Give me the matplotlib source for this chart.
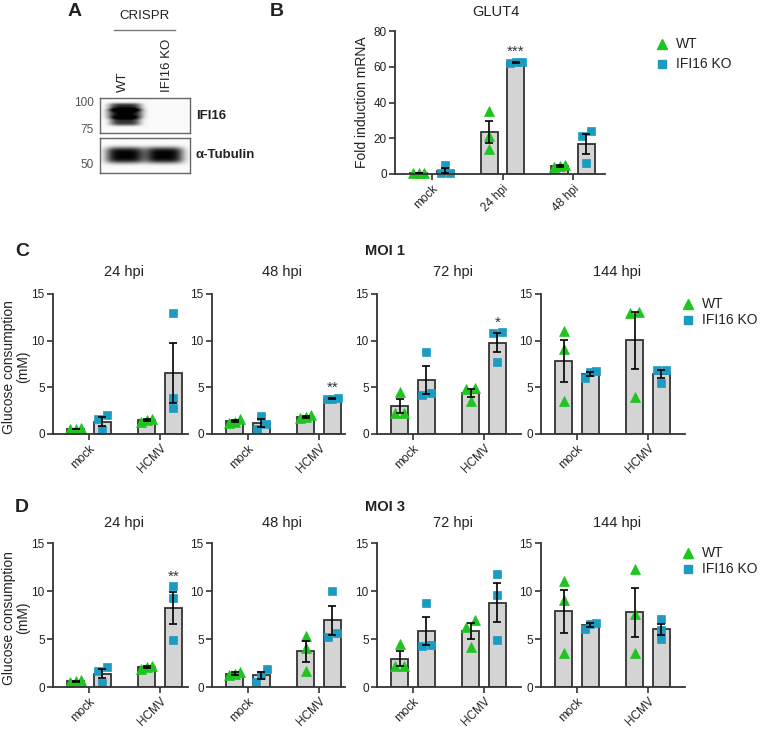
import numpy as np
import matplotlib
matplotlib.use('Agg')
import matplotlib.pyplot as plt

plt.rcParams['font.family'] = ['Liberation Sans', 'DejaVu Sans']

# ---- data ----
b_groups = ['mock', '24 hpi', '48 hpi']
b_wt = [[0.5, 0.6, 0.5], [35.0, 21.0, 14.0], [5.2, 4.3, 4.0]]
b_ko = [[4.8, 0.5, 0.4], [62.8, 62.2, 62.5], [24.0, 21.0, 6.0]]
b_stars = [None, '***', None]

c_groups = ['mock', 'HCMV']
times = ['24 hpi', '48 hpi', '72 hpi', '144 hpi']

# per time point: [mock points, HCMV points]
moi1_wt = [
    [[0.5, 0.6, 0.5], [1.6, 1.5, 1.3]],
    [[1.6, 1.2, 1.3], [2.0, 1.7, 1.8]],
    [[4.5, 2.2, 2.2], [4.9, 4.8, 3.5]],
    [[11.0, 9.1, 3.5], [13.1, 13.0, 4.0]],
]
moi1_ko = [
    [[2.0, 1.6, 0.4], [13.0, 3.9, 2.8]],
    [[1.9, 0.5, 1.1], [3.9, 3.75, 3.7]],
    [[8.8, 4.2, 4.4], [10.9, 10.8, 7.7]],
    [[6.7, 6.6, 6.0], [6.9, 6.9, 5.5]],
]
moi1_stars = [None, '**', '*', None]

moi3_wt = [
    [[0.6, 0.7, 0.5], [2.2, 2.1, 1.9]],
    [[1.6, 1.4, 1.2], [5.3, 4.1, 1.7]],
    [[4.5, 2.2, 2.2], [7.0, 6.3, 4.2]],
    [[11.0, 9.1, 3.5], [12.3, 7.6, 3.5]],
]
moi3_ko = [
    [[2.1, 1.7, 0.4], [10.5, 9.3, 4.9]],
    [[1.9, 0.5, 1.2], [10.0, 5.6, 5.2]],
    [[8.8, 4.3, 4.4], [11.8, 9.6, 4.9]],
    [[6.7, 6.6, 6.0], [7.1, 5.9, 5.0]],
]
moi3_stars = ['**', None, None, None]

# ---- style ----
W, H = 760, 732
GREEN = '#1fc41f'
TEAL = '#1c9abf'
BAR = '#d4d4d4'
EDGE = '#333333'
TXT = '#222222'

fig = plt.figure(figsize=(W / 100, H / 100), dpi=100)
ov = fig.add_axes([0, 0, 1, 1])
ov.set_xlim(0, W)
ov.set_ylim(H, 0)
ov.axis('off')


def px_axes(l, t, r, b):
    return fig.add_axes([l / W, 1 - b / H, (r - l) / W, (b - t) / H])


def spread(vals, tol):
    # horizontal offsets for points with similar values
    order = np.argsort(vals)
    offs = np.zeros(len(vals))
    clusters = [[order[0]]]
    for i in order[1:]:
        if vals[i] - vals[clusters[-1][-1]] < tol:
            clusters[-1].append(i)
        else:
            clusters.append([i])
    for cl in clusters:
        if len(cl) == 2:
            offs[cl] = [-0.06, 0.06]
        elif len(cl) == 3:
            offs[cl] = [-0.08, 0.0, 0.08]
    return offs


def bar_panel(ax, wt, ko, groups, ymax, yticks, stars, px_unit, first_off, width_px):
    for gi in range(len(groups)):
        for pts, off, mk, col, ms in [(wt[gi], -0.19, '^', GREEN, 6.5),
                                      (ko[gi], 0.19, 's', TEAL, 5.5)]:
            pts = np.array(pts)
            m = pts.mean()
            sem = pts.std(ddof=1) / np.sqrt(len(pts))
            x = gi + off
            ax.bar(x, m, width=0.24, color=BAR, edgecolor=EDGE, linewidth=1.3, zorder=1)
            jx = x + spread(pts, 0.05 * ymax)
            ax.plot(jx, pts, linestyle='none', marker=mk, color=col, markersize=ms,
                    markeredgecolor=col, markeredgewidth=0.5, zorder=2, clip_on=False)
            ax.errorbar(x, m, yerr=sem, color='black', capsize=3.2, elinewidth=1.2,
                        capthick=1.2, zorder=3)
        if stars[gi]:
            top = max(max(ko[gi]), 0)
            ax.text(gi + 0.19, top + 0.04 * ymax, stars[gi], ha='center', va='baseline',
                    fontsize=11, color='#333333')
    ax.set_xlim(-first_off / px_unit, (width_px - first_off) / px_unit)
    ax.set_ylim(0, ymax)
    ax.set_yticks(yticks)
    ax.set_xticks(range(len(groups)))
    ax.set_xticklabels(groups, rotation=45, ha='right', va='top', rotation_mode='anchor',
                       fontsize=10, color=TXT)
    for s in ['top', 'right']:
        ax.spines[s].set_visible(False)
    for s in ['left', 'bottom']:
        ax.spines[s].set_linewidth(1.3)
        ax.spines[s].set_color(EDGE)
    ax.tick_params(axis='both', length=4, width=1.2, color=EDGE, labelsize=8.5,
                   labelcolor=TXT, pad=2)
    ax.set_facecolor('none')


# ---- panel A: western blot ----
def blot(ax, bands, w, h):
    s = 4
    yy, xx = np.mgrid[0:h * s, 0:w * s] / s
    img = np.zeros_like(xx, dtype=float)
    for xc, yc, bw, bh, a in bands:
        img += a * np.exp(-(np.abs((xx - xc) / bw) ** 4 + np.abs((yy - yc) / bh) ** 4))
    img = np.clip(img, 0, 1) * 0.97 + 0.02
    ax.imshow(img, cmap='gray_r', vmin=0, vmax=1, extent=(0, w, h, 0), aspect='auto',
              interpolation='bilinear')
    ax.set_xticks([])
    ax.set_yticks([])
    for sp in ax.spines.values():
        sp.set_color('#666666')
        sp.set_linewidth(1.0)


a1 = px_axes(100, 98, 190, 133)
blot(a1, [(25, 9, 16, 4, 0.85), (25, 15.5, 17, 5, 1.0), (25, 23, 15, 4.5, 0.8)], 90, 35)
a2 = px_axes(100, 138, 190, 173)
blot(a2, [(25, 17, 19, 8, 1.0), (64, 17, 19, 8, 1.0)], 90, 35)

ov.text(68, 12, 'A', fontsize=14, fontweight='bold', ha='left', va='center', color=TXT)
ov.text(145, 16, 'CRISPR', fontsize=9.5, ha='center', va='center', color=TXT)
ov.plot([114, 175], [29.5, 29.5], color='#777777', lw=1)
ov.text(123, 92, 'WT', fontsize=9.5, rotation=90, ha='center', va='bottom', color=TXT)
ov.text(167, 92, 'IFI16 KO', fontsize=9.5, rotation=90, ha='center', va='bottom', color=TXT)
for lab, y in [('100', 103), ('75', 130), ('50', 165)]:
    ov.text(94, y, lab, fontsize=8.5, ha='right', va='center', color='#555555')
ov.text(196, 116, 'IFI16', fontsize=9.5, fontweight='bold', ha='left', va='center', color=TXT)
ov.text(196, 155, 'α-Tubulin', fontsize=9.5, fontweight='bold', ha='left', va='center', color=TXT)

# ---- panel B ----
axb = px_axes(395, 31, 605, 174)
bar_panel(axb, b_wt, b_ko, b_groups, 80, [0, 20, 40, 60, 80], b_stars, 70.5, 37, 210)
axb.set_ylabel('Fold induction mRNA', fontsize=10, color=TXT, labelpad=3)
ov.text(270, 12, 'B', fontsize=14, fontweight='bold', ha='left', va='center', color=TXT)
ov.text(496, 12, 'GLUT4', fontsize=10.5, ha='center', va='center', color=TXT)


def legend(x, y, gap):
    ov.plot([x], [y], marker='^', color=GREEN, markersize=6.5, linestyle='none')
    ov.plot([x], [y + gap], marker='s', color=TEAL, markersize=5.5, linestyle='none')
    ov.text(x + 14, y, 'WT', fontsize=10, ha='left', va='center', color=TXT)
    ov.text(x + 14, y + gap, 'IFI16 KO', fontsize=10, ha='left', va='center', color=TXT)


legend(662, 44, 20)

# ---- panels C and D ----
lefts = [53, 212, 377, 541]
rights = [188, 345, 521, 685]


def moi_row(wt, ko, stars, top, bottom, letter, title, ytitle, ysub):
    for i in range(4):
        ax = px_axes(lefts[i], top, rights[i], bottom)
        bar_panel(ax, wt[i], ko[i], c_groups, 15, [0, 5, 10, 15], [None, stars[i]],
                  71, 36, rights[i] - lefts[i])
        ov.text((lefts[i] + rights[i]) / 2 + 4, ysub, times[i], fontsize=10.5,
                ha='center', va='center', color=TXT)
    ov.text(15, ytitle, letter, fontsize=14, fontweight='bold', ha='left', va='center', color=TXT)
    ov.text(385, ytitle, title, fontsize=10.5, fontweight='bold', ha='center', va='center',
            color=TXT)
    ov.text(16, (top + bottom) / 2 + 3, 'Glucose consumption\n(mM)', fontsize=10,
            rotation=90, ha='center', va='center', color=TXT, linespacing=1.0)


moi_row(moi1_wt, moi1_ko, moi1_stars, 294, 434, 'C', 'MOI 1', 251, 272)
legend(688, 304, 16)
moi_row(moi3_wt, moi3_ko, moi3_stars, 543, 687, 'D', 'MOI 3', 507, 523)
legend(688, 553, 16)

fig.savefig('out.png', dpi=100)
